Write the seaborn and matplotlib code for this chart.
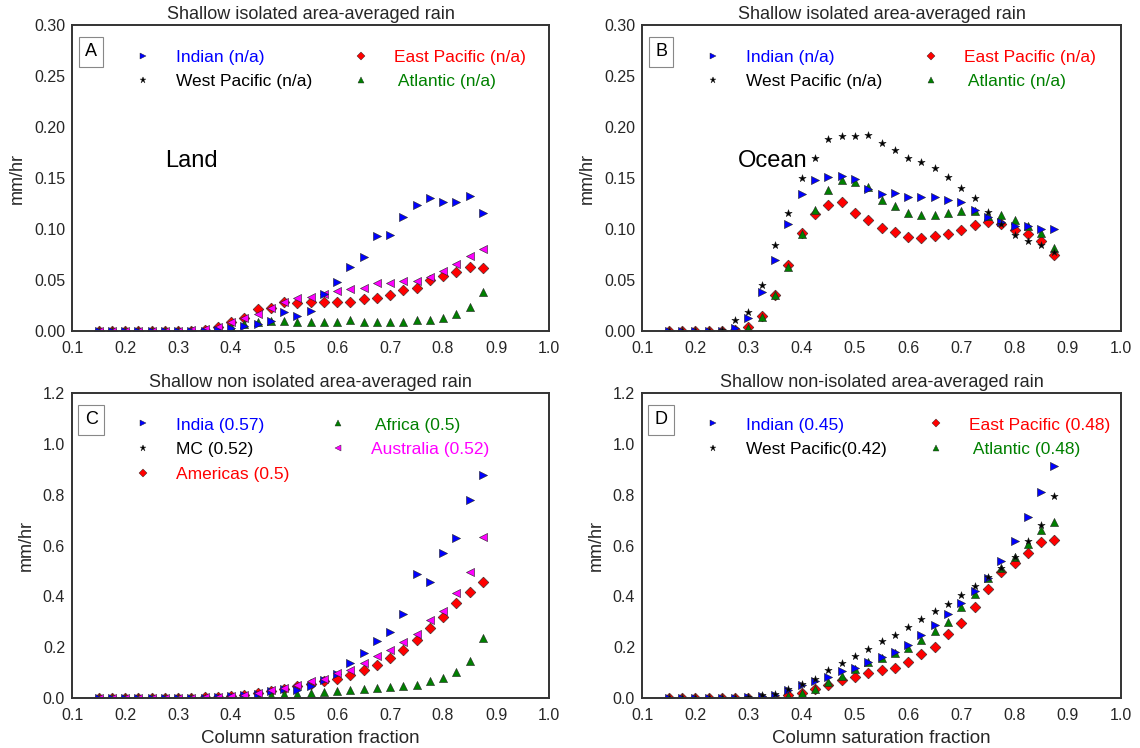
import numpy as np
import pandas as pd
import matplotlib
matplotlib.use("Agg")
import matplotlib.pyplot as plt
import seaborn as sns
from matplotlib.lines import Line2D

# ---------------- data ----------------
x_frac = [0.150, 0.175, 0.200, 0.225, 0.250, 0.275, 0.300, 0.325, 0.350, 0.375,
          0.400, 0.425, 0.450, 0.475, 0.500, 0.525, 0.550, 0.575, 0.600, 0.625,
          0.650, 0.675, 0.700, 0.725, 0.750, 0.775, 0.800, 0.825, 0.850, 0.875]

# Panel A (Land, isolated)
a_blue = [0, 0, 0, 0, 0, 0, 0, 0, 0, 0.001, 0.003, 0.005, 0.007, 0.010, 0.019, 0.015,
          0.020, 0.036, 0.048, 0.063, 0.073, 0.093, 0.094, 0.112, 0.124, 0.130, 0.126,
          0.126, 0.132, 0.116]
a_red = [0, 0, 0, 0, 0, 0, 0, 0, 0.001, 0.004, 0.009, 0.013, 0.022, 0.023, 0.028, 0.027,
         0.028, 0.028, 0.028, 0.028, 0.031, 0.032, 0.035, 0.040, 0.042, 0.050, 0.054,
         0.058, 0.063, 0.062]
a_magenta = [0, 0, 0, 0, 0, 0, 0, 0.001, 0.002, 0.004, 0.009, 0.013, 0.017, 0.023, 0.028,
             0.032, 0.033, 0.036, 0.039, 0.041, 0.042, 0.047, 0.047, 0.049, 0.049, 0.053,
             0.059, 0.066, 0.074, 0.080]
a_green = [0, 0, 0, 0, 0, 0, 0, 0, 0, 0.001, 0.004, 0.007, 0.009, 0.010, 0.010, 0.009,
           0.009, 0.009, 0.009, 0.011, 0.009, 0.009, 0.009, 0.009, 0.011, 0.011, 0.013,
           0.017, 0.024, 0.038]

# Panel B (Ocean, isolated)
b_blue = [0, 0, 0, 0, 0, 0.003, 0.0125, 0.038, 0.070, 0.105, 0.134, 0.148, 0.151, 0.152,
          0.149, 0.139, 0.134, 0.135, 0.131, 0.131, 0.131, 0.128, 0.126, 0.119, 0.112,
          0.107, 0.103, 0.103, 0.100, 0.100]
b_black = [0, 0, 0, 0, 0.001, 0.011, 0.019, 0.045, 0.084, 0.116, 0.150, 0.170, 0.188,
           0.191, 0.191, 0.192, 0.184, 0.177, 0.170, 0.166, 0.160, 0.151, 0.140, 0.130,
           0.117, 0.105, 0.094, 0.088, 0.084, 0.077]
b_red = [0, 0, 0, 0, 0, 0.001, 0.004, 0.015, 0.035, 0.065, 0.096, 0.115, 0.124, 0.126,
         0.116, 0.109, 0.101, 0.097, 0.092, 0.091, 0.093, 0.095, 0.099, 0.104, 0.107,
         0.105, 0.099, 0.095, 0.088, 0.075]
b_green = [0, 0, 0, 0, 0, 0.001, 0.003, 0.014, 0.035, 0.063, 0.095, 0.119, 0.138, 0.148,
           0.146, 0.141, 0.128, 0.123, 0.116, 0.114, 0.114, 0.116, 0.118, 0.118, 0.113,
           0.114, 0.109, 0.103, 0.096, 0.081]

# Panel C (Land, non-isolated)
c_blue = [0, 0, 0, 0, 0, 0, 0, 0, 0.001, 0.003, 0.006, 0.010, 0.016, 0.026, 0.037, 0.033,
          0.046, 0.072, 0.096, 0.137, 0.176, 0.224, 0.258, 0.329, 0.486, 0.457, 0.572,
          0.630, 0.778, 0.879]
c_magenta = [0, 0, 0, 0, 0, 0, 0, 0.001, 0.002, 0.005, 0.009, 0.013, 0.021, 0.030, 0.041,
             0.051, 0.068, 0.075, 0.097, 0.109, 0.136, 0.164, 0.188, 0.222, 0.253, 0.305,
             0.343, 0.412, 0.496, 0.633]
c_red = [0, 0, 0, 0, 0, 0, 0, 0.001, 0.002, 0.004, 0.007, 0.011, 0.018, 0.027, 0.037,
         0.046, 0.054, 0.067, 0.076, 0.091, 0.109, 0.128, 0.159, 0.189, 0.229, 0.276,
         0.320, 0.375, 0.416, 0.458]
c_green = [0, 0, 0, 0, 0, 0, 0, 0, 0, 0.001, 0.002, 0.003, 0.005, 0.010, 0.014, 0.017,
           0.020, 0.024, 0.026, 0.032, 0.036, 0.038, 0.042, 0.047, 0.053, 0.067, 0.080,
           0.104, 0.145, 0.237]

# Panel D (Ocean, non-isolated)
d_blue = [0, 0, 0, 0, 0, 0, 0.002, 0.006, 0.013, 0.032, 0.051, 0.067, 0.082, 0.107,
          0.118, 0.141, 0.162, 0.182, 0.209, 0.249, 0.288, 0.329, 0.372, 0.421, 0.474,
          0.539, 0.616, 0.713, 0.812, 0.914]
d_black = [0, 0, 0, 0, 0, 0, 0.004, 0.011, 0.017, 0.037, 0.054, 0.076, 0.109, 0.139,
           0.166, 0.191, 0.224, 0.249, 0.279, 0.309, 0.341, 0.371, 0.405, 0.439, 0.475,
           0.512, 0.553, 0.618, 0.682, 0.796]
d_red = [0, 0, 0, 0, 0, 0, 0, 0, 0.001, 0.011, 0.021, 0.037, 0.053, 0.070, 0.082, 0.099,
         0.111, 0.120, 0.143, 0.172, 0.200, 0.251, 0.296, 0.357, 0.429, 0.495, 0.532,
         0.571, 0.614, 0.621]
d_green = [0, 0, 0, 0, 0, 0, 0, 0, 0.004, 0.008, 0.020, 0.037, 0.064, 0.086, 0.113,
           0.141, 0.157, 0.179, 0.195, 0.230, 0.263, 0.300, 0.357, 0.411, 0.471, 0.512,
           0.553, 0.605, 0.661, 0.692]

ocean_labels_iso = ["Indian (n/a)", "West Pacific (n/a)", "East Pacific (n/a)", " Atlantic (n/a)"]
land_labels = ["India (0.57)", "MC (0.52)", "Americas (0.5)", " Africa (0.5)", "Australia (0.52)"]
ocean_labels_non = ["Indian (0.45)", "West Pacific(0.42)", "East Pacific (0.48)", " Atlantic (0.48)"]

x_ticks = [0.1, 0.2, 0.3, 0.4, 0.5, 0.6, 0.7, 0.8, 0.9, 1.0]
y_ticks_top = [0.00, 0.05, 0.10, 0.15, 0.20, 0.25, 0.30]
y_ticks_bot = [0.0, 0.2, 0.4, 0.6, 0.8, 1.0, 1.2]

# ---------------- style ----------------
sns.set_theme(style="white")
plt.rcParams["font.family"] = ["Liberation Sans", "DejaVu Sans"]
plt.rcParams["axes.edgecolor"] = "#333333"
plt.rcParams["axes.linewidth"] = 1.4

C_BLUE, C_BLACK, C_RED, C_GREEN, C_MAG = "#0000ff", "#000000", "#ff0000", "#008000", "#ff00ff"
MK = {"blue": ">", "black": "*", "red": "D", "green": "^", "mag": "<"}
COL = {"blue": C_BLUE, "black": C_BLACK, "red": C_RED, "green": C_GREEN, "mag": C_MAG}
SIZE = {"blue": 34, "black": 30, "red": 30, "green": 34, "mag": 34}

fig = plt.figure(figsize=(11.4, 7.48), dpi=100)
W, H = 1140, 748


def add_ax(l, t, r, b):
    return fig.add_axes([l / W, 1 - b / H, (r - l) / W, (b - t) / H])


axA = add_ax(72, 25, 549, 331)
axB = add_ax(642, 25, 1121, 331)
axC = add_ax(72, 393, 549, 698)
axD = add_ax(642, 393, 1121, 698)


def draw(ax, series):
    for key, vals in series:
        sns.scatterplot(x=x_frac, y=vals, ax=ax, marker=MK[key], color=COL[key],
                        s=SIZE[key], edgecolor="#222222", linewidth=0.4, legend=False)


draw(axA, [("red", a_red), ("green", a_green), ("mag", a_magenta), ("blue", a_blue)])
draw(axB, [("red", b_red), ("green", b_green), ("blue", b_blue), ("black", b_black)])
draw(axC, [("red", c_red), ("green", c_green), ("blue", c_blue), ("mag", c_magenta)])
draw(axD, [("red", d_red), ("green", d_green), ("blue", d_blue), ("black", d_black)])


def make_legend(ax, labels, keys):
    handles = [Line2D([], [], linestyle="", marker=MK[k], color=COL[k], markersize=4.5,
                      markeredgecolor="#222222", markeredgewidth=0.3) for k in keys]
    leg = ax.legend(handles, labels, ncol=2, loc="upper left", frameon=False,
                    bbox_to_anchor=(0.131, 0.92), borderaxespad=0, borderpad=0,
                    handlelength=1.0, handletextpad=1.4, columnspacing=2.3,
                    labelspacing=0.55, fontsize=12.5)
    for t, k in zip(leg.get_texts(), keys):
        t.set_color(COL[k])


make_legend(axA, ocean_labels_iso, ["blue", "black", "red", "green"])
make_legend(axB, ocean_labels_iso, ["blue", "black", "red", "green"])
make_legend(axC, land_labels, ["blue", "black", "red", "green", "mag"])
make_legend(axD, ocean_labels_non, ["blue", "black", "red", "green"])

titles = ["Shallow isolated area-averaged rain", "Shallow isolated area-averaged rain",
          "Shallow non isolated area-averaged rain", "Shallow non-isolated area-averaged rain"]
letters = ["A", "B", "C", "D"]
for i, ax in enumerate([axA, axB, axC, axD]):
    ax.set_xlim(0.1, 1.0)
    ax.set_xticks(x_ticks)
    ax.set_xticklabels([f"{v:.1f}" for v in x_ticks])
    if i < 2:
        ax.set_ylim(0, 0.30)
        ax.set_yticks(y_ticks_top)
        ax.set_yticklabels([f"{v:.2f}" for v in y_ticks_top])
    else:
        ax.set_ylim(0, 1.2)
        ax.set_yticks(y_ticks_bot)
        ax.set_yticklabels([f"{v:.1f}" for v in y_ticks_bot])
        ax.set_xlabel("Column saturation fraction", fontsize=13.5, color="#262626", labelpad=5)
    ax.set_ylabel("mm/hr", fontsize=13, color="#262626", labelpad=6)
    ax.set_title(titles[i], fontsize=13, color="#262626", pad=4)
    ax.tick_params(axis="x", labelsize=11.5, colors="#262626", pad=7, length=0)
    ax.tick_params(axis="y", labelsize=11.5, colors="#262626", pad=5, length=0)
    ax.text(0.04, 0.912, letters[i], transform=ax.transAxes, fontsize=13, ha="center",
            va="center", color="black",
            bbox=dict(boxstyle="square,pad=0.35", fc="white", ec="#888888", lw=0.8))

axA.text(0.275, 0.167, "Land", fontsize=17, ha="left", va="center", color="black")
axB.text(0.281, 0.167, "Ocean", fontsize=17, ha="left", va="center", color="black")

fig.savefig("out.png", dpi=100)
